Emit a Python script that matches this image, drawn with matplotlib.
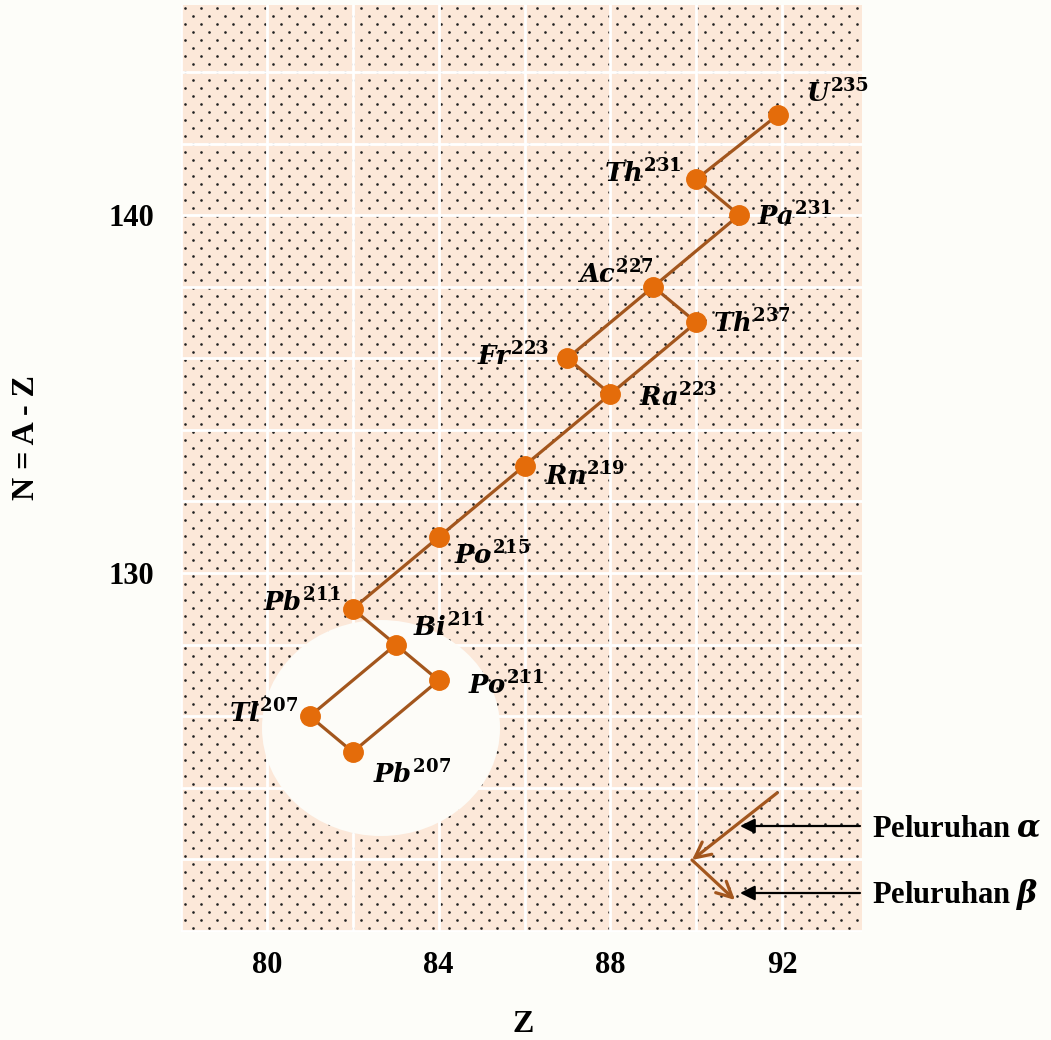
import numpy as np
import matplotlib
matplotlib.use("Agg")
import matplotlib.pyplot as plt
from matplotlib.patches import Ellipse

# ---- data ----
symbols = ["U", "Th", "Pa", "Ac", "Th", "Fr", "Ra", "Rn", "Po", "Pb", "Bi", "Po", "Tl", "Pb"]
mass_numbers = [235, 231, 231, 227, 237, 223, 223, 219, 215, 211, 211, 211, 207, 207]
Z_values = [91.9, 90, 91, 89, 90, 87, 88, 86, 84, 82, 83, 84, 81, 82]
N_values = [142.8, 141, 140, 138, 137, 136, 135, 133, 131, 129, 128, 127, 126, 125]
# decay links (index pairs)
links = [(0, 1), (1, 2), (2, 3), (3, 4), (3, 5), (4, 6), (5, 6), (6, 7), (7, 8),
         (8, 9), (9, 10), (10, 11), (10, 12), (11, 13), (12, 13)]
x_ticks = [80, 84, 88, 92]
y_ticks = [130, 140]
# label offsets in pixels (dx, dy of baseline, downward positive) and alignment
label_dx = [28, -15, 18, 1, 17, -18, 29, 20, 15, -12, 17, 29, -12, 20]
label_dy = [-13, 3, 10, -3, 10, 7, 12, 20, 27, 2, -8, 14, 6, 31]
label_ha = ["left", "right", "left", "right", "left", "right", "left", "left",
            "left", "right", "left", "left", "right", "left"]

plt.rcParams["mathtext.fontset"] = "custom"
plt.rcParams["mathtext.it"] = "DejaVu Serif:italic:bold"
plt.rcParams["mathtext.rm"] = "DejaVu Serif:bold"
plt.rcParams["mathtext.bf"] = "DejaVu Serif:bold"

W, H = 1051, 1040
fig = plt.figure(figsize=(W / 100, H / 100), dpi=100, facecolor="#fdfdf9")
L, R, T, B = 181, 862, 5, 932
ax = fig.add_axes([L / W, 1 - B / H, (R - L) / W, (B - T) / H])
ax.set_facecolor("#fce8d9")
ax.set_xlim(78.02, 93.86)
ax.set_ylim(119.97, 145.87)

# dotted texture
pw, ph = R - L, B - T
rows = np.arange(3, ph, 8)
pts = []
for i, r in enumerate(rows):
    cols = np.arange(4 + (8 if i % 2 else 0), pw, 16)
    pts.append(np.column_stack([cols / pw, np.full(len(cols), 1 - r / ph)]))
pts = np.vstack(pts)
ax.scatter(pts[:, 0], pts[:, 1], s=3.6, color="#222222", linewidths=0,
           transform=ax.transAxes, zorder=0.3)

# grid
ax.set_xticks(x_ticks)
ax.set_yticks(y_ticks)
ax.set_xticks(np.arange(78, 94, 2), minor=True)
ax.set_yticks(np.arange(120, 146, 2), minor=True)
ax.set_axisbelow(True)
ax.grid(which="both", color="white", lw=2.0)
ax.tick_params(which="both", length=0)
for s in ax.spines.values():
    s.set_visible(False)
ax.set_xticklabels([str(v) for v in x_ticks], fontfamily="Liberation Serif",
                   fontweight="bold", fontsize=22)
ax.set_yticklabels([str(v) for v in y_ticks], fontfamily="Liberation Serif",
                   fontweight="bold", fontsize=22)
ax.tick_params(axis="x", pad=14)
ax.tick_params(axis="y", pad=19)

# white circular patch
ax.add_patch(Ellipse(((381 - L) / pw, (B - 728) / ph), 238 / pw, 216 / ph,
                     transform=ax.transAxes, facecolor="#fdfcf8", edgecolor="none",
                     zorder=0.8))

line_col = "#a3561d"
mark_col = "#e46c0a"
for a, b in links:
    ax.plot([Z_values[a], Z_values[b]], [N_values[a], N_values[b]], color=line_col,
            lw=2.3, zorder=2, solid_capstyle="butt")
ax.plot(Z_values, N_values, "o", ls="none", color=mark_col, ms=14, mec=mark_col, zorder=3)

for i in range(len(symbols)):
    ax.annotate(r"$%s^{%d}$" % (symbols[i], mass_numbers[i]), (Z_values[i], N_values[i]),
                xytext=(label_dx[i] * 0.72, -label_dy[i] * 0.72), textcoords="offset points",
                ha=label_ha[i], va="baseline", fontsize=18.5, zorder=4)

# legend arrows
def axpt(px, py):
    return ((px - L) / pw, (B - py) / ph)

ax.annotate("", xy=axpt(692, 860), xytext=axpt(777, 793), xycoords="axes fraction",
            textcoords="axes fraction",
            arrowprops=dict(arrowstyle="->", color=line_col, lw=2.3, mutation_scale=28,
                            shrinkA=0, shrinkB=0), zorder=3)
ax.annotate("", xy=axpt(735, 900), xytext=axpt(692, 860), xycoords="axes fraction",
            textcoords="axes fraction",
            arrowprops=dict(arrowstyle="->", color=line_col, lw=2.3, mutation_scale=28,
                            shrinkA=0, shrinkB=0), zorder=3)
for py in (826, 893):
    ax.annotate("", xy=axpt(740, py), xytext=axpt(860, py), xycoords="axes fraction",
                textcoords="axes fraction", annotation_clip=False,
                arrowprops=dict(arrowstyle="-|>", color="black", lw=1.6, mutation_scale=22,
                                shrinkA=0, shrinkB=0), zorder=3)

fig.text(872 / W, 1 - 837 / H, r"Peluruhan $\alpha$", fontfamily="Liberation Serif",
         fontweight="bold", fontsize=22, ha="left", va="baseline")
fig.text(872 / W, 1 - 903 / H, r"Peluruhan $\beta$", fontfamily="Liberation Serif",
         fontweight="bold", fontsize=22, ha="left", va="baseline")

fig.text(26 / W, 1 - 437 / H, "N = A - Z", rotation=90, fontfamily="Liberation Serif",
         fontweight="bold", fontsize=23, ha="center", va="center")
fig.text(523 / W, 1 - 1024 / H, "Z", fontfamily="Liberation Serif",
         fontweight="bold", fontsize=23, ha="center", va="center")

fig.savefig("out.png", dpi=100, facecolor=fig.get_facecolor())
